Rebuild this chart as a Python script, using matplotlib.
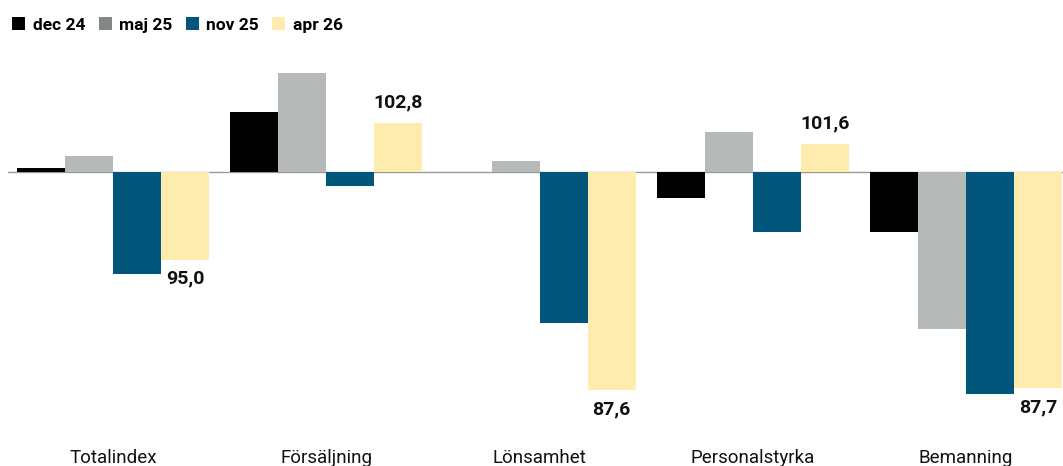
import matplotlib
matplotlib.use("Agg")
import matplotlib.pyplot as plt
from matplotlib.patches import Patch
import numpy as np

categories = ["Totalindex", "Försäljning", "Lönsamhet", "Personalstyrka", "Bemanning"]
series_names = ["dec 24", "maj 25", "nov 25", "apr 26"]
dec24 = [100.2, 103.4, 100.0, 98.5, 96.6]
maj25 = [100.9, 105.6, 100.6, 102.3, 91.1]
nov25 = [94.2, 99.2, 91.4, 96.6, 87.4]
apr26 = [95.0, 102.8, 87.6, 101.6, 87.7]
labels_apr26 = ["95,0", "102,8", "87,6", "101,6", "87,7"]

bar_colors = ["#000000", "#b5bab9", "#02567b", "#fdecae"]
legend_colors = ["#000000", "#808784", "#02567b", "#fdecae"]

plt.rcParams['font.family'] = ['Roboto', 'DejaVu Sans']

W, H = 1063, 466
fig = plt.figure(figsize=(W / 100, H / 100), dpi=100)
ax_top_px, ax_bot_px = 40, 420
ax = fig.add_axes([8 / W, 1 - ax_bot_px / H, 1 - 8 / W, (ax_bot_px - ax_top_px) / H])

base = 100.0
px_per_unit = 17.6
base_px = 172
ax.set_ylim(base - (ax_bot_px - base_px) / px_per_unit, base + (base_px - ax_top_px) / px_per_unit)

w = 0.225
x = np.arange(len(categories))
all_series = [dec24, maj25, nov25, apr26]
for j, (vals, col) in enumerate(zip(all_series, bar_colors)):
    heights = [v - base for v in vals]
    ax.bar(x + (j - 1.5) * w, heights, width=w, bottom=base, color=col, linewidth=0)

ax.set_xlim(-0.492, 4.454)
ax.axhline(base, color="#9a9a9a", linewidth=1.0, zorder=0)

for i, (v, lab) in enumerate(zip(apr26, labels_apr26)):
    xi = x[i] + 1.5 * w
    if v < base:
        ax.annotate(lab, (xi, v), xytext=(0, -7), textcoords="offset points",
                    ha="center", va="top", fontsize=14, fontweight="bold", color="#111111")
    else:
        ax.annotate(lab, (xi, v), xytext=(0, 11), textcoords="offset points",
                    ha="center", va="baseline", fontsize=14, fontweight="bold", color="#111111")

ax.set_xticks(x)
ax.set_xticklabels(categories, fontsize=13.5, color="#111111")
ax.tick_params(axis="x", length=0, pad=21)
ax.set_yticks([])
for s in ax.spines.values():
    s.set_visible(False)

handles = [Patch(facecolor=c, edgecolor="none") for c in legend_colors]
fig.legend(handles, series_names, loc="upper left", bbox_to_anchor=(0.0, 1.0 - 5 / H),
           ncol=4, frameon=False, prop={"weight": "bold", "size": 12.5},
           handlelength=0.75, handleheight=0.75, handletextpad=0.45,
           columnspacing=0.75, borderaxespad=0.3)

fig.savefig("out.png", dpi=100)
